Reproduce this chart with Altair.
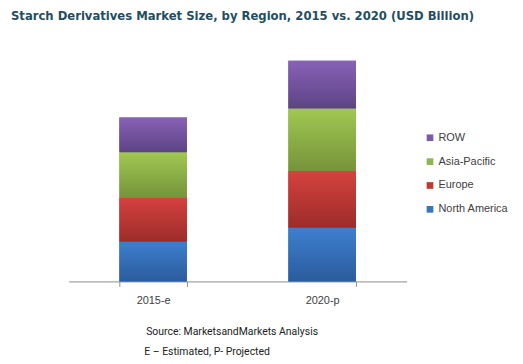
import altair as alt
import pandas as pd

years = ["2015-e", "2020-p"]
regions = ["North America", "Europe", "Asia-Pacific", "ROW"]
north_america = [4.0, 5.4]
europe = [4.4, 5.7]
asia_pacific = [4.6, 6.3]
row_values = [3.5, 4.8]

legend_order = ["ROW", "Asia-Pacific", "Europe", "North America"]
flat_colors = ["#7b5ba8", "#8fb74f", "#c0392f", "#3a74c0"]
grad_colors = {
    "North America": ("#3d7fcf", "#2b5c9c"),
    "Europe": ("#d5423e", "#9c2c29"),
    "Asia-Pacific": ("#a2c852", "#75933a"),
    "ROW": ("#8762b6", "#5d4384"),
}

series = [north_america, europe, asia_pacific, row_values]
rows = []
for i, reg in enumerate(regions):
    for j, yr in enumerate(years):
        rows.append({"year": yr, "region": reg, "value": series[i][j], "order": i})
df = pd.DataFrame(rows)

x_enc = alt.X(
    "year:N",
    sort=years,
    scale=alt.Scale(paddingInner=0.6, paddingOuter=0.3),
    axis=alt.Axis(
        title=None, labelAngle=0, labelFontSize=11, labelColor="#404040",
        labelFont="Liberation Sans", domainColor="#8c8c8c", tickColor="#8c8c8c",
        tickSize=5, tickBand="extent", labelPadding=8, grid=False,
    ),
)
y_scale = alt.Scale(domain=[0, 24.2])

base = alt.Chart(df).transform_stack(
    stack="value", groupby=["year"], as_=["y0", "y1"],
    sort=[alt.SortField("order", order="ascending")],
)

bars = base.mark_bar().encode(
    x=x_enc,
    y=alt.Y("y0:Q", scale=y_scale, axis=None),
    y2="y1:Q",
    color=alt.Color(
        "region:N",
        scale=alt.Scale(domain=legend_order, range=flat_colors),
        legend=alt.Legend(
            title=None, orient="none", legendX=358, legendY=92,
            symbolType="square", symbolSize=45, symbolStrokeWidth=0,
            labelFontSize=11, labelColor="#404040", labelFont="Liberation Sans",
            rowPadding=12, labelOffset=3, labelLimit=200,
        ),
    ),
)

layers = [bars]
for reg in regions:
    top, bottom = grad_colors[reg]
    layers.append(
        base.transform_filter(alt.datum.region == reg).mark_bar(
            color=alt.LinearGradient(
                gradient="linear", x1=0, x2=0, y1=0, y2=1,
                stops=[alt.GradientStop(color=top, offset=0),
                       alt.GradientStop(color=bottom, offset=1)],
            )
        ).encode(
            x=x_enc,
            y=alt.Y("y0:Q", scale=y_scale, axis=None),
            y2="y1:Q",
        )
    )

txt = pd.DataFrame({"t": [0]})
title = alt.Chart(txt).mark_text(
    text="Starch Derivatives Market Size, by Region, 2015 vs. 2020 (USD Billion)",
    font="DejaVu Sans Condensed, Roboto, sans-serif", fontSize=13, fontWeight="bold",
    color="#1f4e63", align="left", baseline="middle",
).encode(x=alt.value(-58), y=alt.value(-25))
source = alt.Chart(txt).mark_text(
    text="Source: MarketsandMarkets Analysis",
    font="Roboto", fontSize=10.5, color="#222222",
    align="left", baseline="middle",
).encode(x=alt.value(78), y=alt.value(293))
note = alt.Chart(txt).mark_text(
    text="E \u2013 Estimated, P- Projected",
    font="Roboto", fontSize=10.5, color="#222222",
    align="left", baseline="middle",
).encode(x=alt.value(76), y=alt.value(313))

chart = alt.layer(*layers, title, source, note).properties(
    width=340, height=242,
    background="white",
    autosize=alt.AutoSizeParams(type="none"),
    padding={"left": 61, "top": 32, "right": 109, "bottom": 76},
).configure_view(strokeWidth=0, stroke="transparent")

chart.save("out.html", embed_options={"renderer": "svg", "actions": False})
